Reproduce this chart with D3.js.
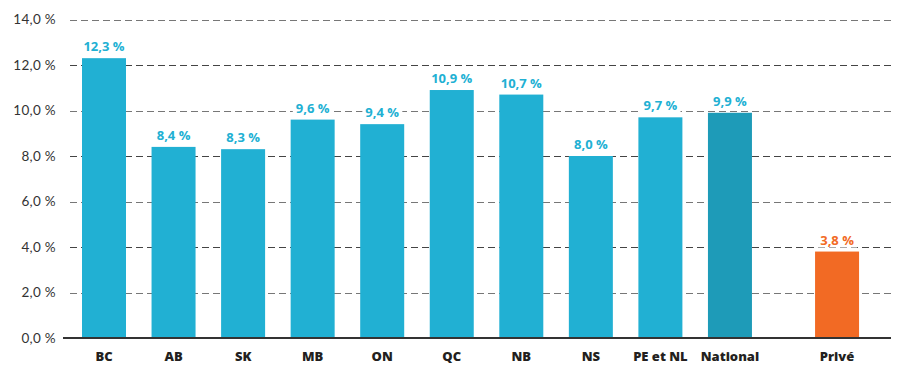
<!DOCTYPE html>
<html><head><meta charset="utf-8">
<script src="https://cdn.jsdelivr.net/npm/d3@7"></script>
<style>
html,body{margin:0;padding:0;background:#fff;}
svg{display:block;font-family:Lato, "Open Sans", sans-serif;}
</style></head>
<body>
<svg id="chart" width="902" height="384"></svg>
<script>
const categories = ["BC","AB","SK","MB","ON","QC","NB","NS","PE et NL","National","Privé"];
const values = [12.3, 8.4, 8.3, 9.6, 9.4, 10.9, 10.7, 8.0, 9.7, 9.9, 3.8];
const yTicks = [0, 2, 4, 6, 8, 10, 12, 14];
const colors = {normal:"#21b0d3", national:"#1e9bb8", prive:"#f26a24"};

const svg = d3.select("#chart");
const plotLeft = 70, plotRight = 891;
const y = d3.scaleLinear().domain([0, 14]).range([338, 19.5]);
// slot index: Privé is separated by an extra gap
const slotIndex = categories.map((c, i) => c === "Privé" ? i + 0.54 : i);
const x = d3.scaleLinear().domain([0, 10]).range([82, 777.5]);
const barW = 44;
const fmt = v => d3.format(".1f")(v).replace(".", ",") + " %";
const colorOf = c => c === "National" ? colors.national : (c === "Privé" ? colors.prive : colors.normal);

// gridlines
const grid = svg.append("g");
yTicks.filter(t => t > 0).forEach(t => {
  grid.append("line").attr("x1", plotLeft).attr("x2", plotRight)
    .attr("y1", Math.round(y(t)) + 0.5).attr("y2", Math.round(y(t)) + 0.5)
    .attr("stroke", t % 4 === 2 ? "#777" : "#444").attr("stroke-width", 1.2)
    .attr("stroke-dasharray", "7,4");
});

// y axis labels
const yAxis = d3.axisLeft(y).tickValues(yTicks).tickSize(0).tickPadding(0)
  .tickFormat(d => d3.format(".1f")(d).replace(".", ",") + " %");
const ya = svg.append("g").attr("transform", `translate(${plotLeft - 14},0)`).call(yAxis);
ya.select(".domain").remove();
ya.selectAll("text").attr("font-size", 13.5).attr("fill", "#333").attr("font-family", "Lato, sans-serif")
  .attr("letter-spacing", 0.3);

// value labels with white background (interrupt gridlines)
const lbl = svg.append("g");
categories.forEach((c, i) => {
  const cx = x(slotIndex[i]) + barW / 2;
  const ty = y(values[i]) - 7;
  const t = lbl.append("text").attr("x", cx).attr("y", ty).attr("text-anchor", "middle")
    .attr("font-family", "'Open Sans', sans-serif")
    .attr("font-size", 13).attr("font-weight", 700).attr("fill", c === "Privé" ? colors.prive : colors.normal)
    .text(fmt(values[i]));
  const bb = t.node().getBBox();
  lbl.insert("rect", "text").attr("x", bb.x - 3).attr("y", bb.y + 2).attr("width", bb.width + 6).attr("height", bb.height - 3)
    .attr("fill", "#fff");
});

// bars
svg.append("g").selectAll("rect").data(categories).join("rect")
  .attr("x", (c, i) => x(slotIndex[i]))
  .attr("y", (c, i) => y(values[i]))
  .attr("width", barW)
  .attr("height", (c, i) => y(0) - y(values[i]))
  .attr("fill", c => colorOf(c));

// baseline
svg.append("line").attr("x1", plotLeft - 7).attr("x2", plotRight).attr("y1", y(0)).attr("y2", y(0))
  .attr("stroke", "#333").attr("stroke-width", 2);

// category labels
svg.append("g").selectAll("text").data(categories).join("text")
  .attr("x", (c, i) => x(slotIndex[i]) + barW / 2)
  .attr("y", 361)
  .attr("text-anchor", "middle")
  .attr("font-family", "'Open Sans', sans-serif")
  .attr("font-size", 13).attr("font-weight", 800).attr("fill", "#231f20")
  .text(c => c);
</script>
</body></html>
